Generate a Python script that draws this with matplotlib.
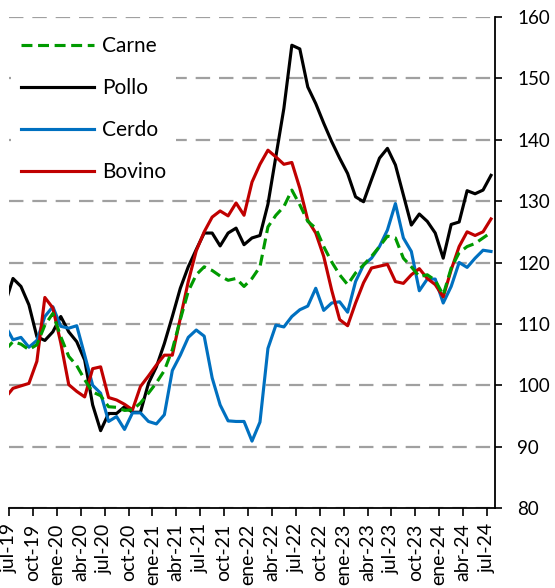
import numpy as np
import matplotlib.pyplot as plt

# monthly index, jun-19 .. jul-24 (first point falls left of the axis, clipped like the original)
carne = [105.7, 107.1, 106.7, 105.8, 106.6, 109.8, 111.7, 107.9, 104.7, 103.2, 100.9,
         98.9, 98.3, 96.5, 96.4, 95.9, 96.0, 97.1, 98.7, 100.4, 102.4, 105.8,
         110.7, 115.3, 118.0, 119.3, 118.7, 117.8, 117.1, 117.4, 116.1, 117.4,
         119.3, 125.8, 127.7, 129.1, 131.8, 129.4, 126.7, 125.6, 122.6, 120.1,
         118.0, 116.4, 118.3, 119.6, 121.0, 122.6, 124.3, 124.0, 120.7, 119.3,
         117.7, 118.0, 117.1, 114.7, 119.1, 121.6, 122.6, 123.1, 124.0, 124.9]
pollo = [113.2, 117.4, 116.1, 113.1, 107.9, 107.3, 108.7, 111.2, 108.7, 107.1, 104.1,
         96.8, 92.6, 95.4, 95.4, 96.5, 95.6, 95.6, 100.3, 103.0, 106.8, 111.2,
         115.8, 119.3, 122.1, 124.8, 124.8, 122.7, 124.8, 125.6, 122.9, 124.0,
         124.4, 129.5, 137.3, 145.1, 155.4, 154.8, 148.6, 145.9, 142.7, 139.7,
         137.0, 134.5, 130.7, 129.9, 133.5, 137.0, 138.6, 135.9, 131.0, 126.1,
         127.9, 126.7, 124.8, 120.7, 126.2, 126.6, 131.7, 131.2, 131.8, 134.2]
cerdo = [109.8, 107.4, 107.8, 106.2, 107.3, 111.2, 112.8, 109.6, 109.3, 109.7, 104.9,
         100.0, 98.7, 94.1, 94.9, 92.8, 95.5, 95.5, 94.1, 93.7, 95.2, 102.4,
         104.9, 107.8, 109.0, 108.0, 101.2, 96.8, 94.2, 94.1, 94.1, 90.9,
         94.0, 106.0, 109.8, 109.5, 111.2, 112.3, 112.9, 115.8, 112.2, 113.4,
         113.6, 111.9, 116.9, 119.6, 120.7, 122.6, 125.3, 129.6, 124.0, 121.8,
         115.4, 117.3, 117.3, 113.4, 116.1, 120.0, 119.2, 120.7, 122.0, 121.8]
bovino = [97.9, 99.5, 99.9, 100.3, 103.9, 114.3, 112.6, 106.9, 100.1, 99.0, 98.1,
          102.7, 103.0, 98.0, 97.6, 96.9, 96.0, 99.8, 101.5, 103.3, 104.9, 104.9,
          110.9, 116.9, 121.9, 125.0, 127.4, 128.4, 127.6, 129.7, 127.7, 133.1,
          136.0, 138.3, 137.2, 136.0, 136.3, 132.1, 126.9, 124.8, 121.0, 115.5,
          110.7, 109.7, 113.4, 116.7, 119.1, 119.4, 119.7, 116.9, 116.6, 118.0,
          119.0, 117.4, 116.4, 114.4, 118.8, 122.6, 125.0, 124.4, 125.0, 127.1]

tick_labels = ['jul-19', 'oct-19', 'ene-20', 'abr-20', 'jul-20', 'oct-20', 'ene-21',
               'abr-21', 'jul-21', 'oct-21', 'ene-22', 'abr-22', 'jul-22', 'oct-22',
               'ene-23', 'abr-23', 'jul-23', 'oct-23', 'ene-24', 'abr-24', 'jul-24']

plt.rcParams['font.family'] = ['Lato', 'DejaVu Sans']

fig = plt.figure(figsize=(5.55, 5.88), dpi=100)
ax = fig.add_axes([9 / 555, 1 - 508 / 588, 486 / 555, 491 / 588])

# points sit mid-month, month 0 = jul-19
x = np.arange(len(pollo)) - 1 + 0.5

ax.plot(x, carne, color='#009a00', lw=2.25, dashes=(3.5, 1.8), label='Carne', zorder=5)
ax.plot(x, pollo, color='black', lw=2.25, label='Pollo', zorder=3)
ax.plot(x, cerdo, color='#0070c0', lw=2.25, label='Cerdo', zorder=3)
ax.plot(x, bovino, color='#c00000', lw=2.25, label='Bovino', zorder=4)

ax.set_xlim(0, 61)
ax.set_ylim(80, 160)
ax.set_xticks(np.arange(0, 61, 3))
ax.set_xticklabels(tick_labels, rotation=90, fontsize=14)
ax.set_yticks(np.arange(80, 161, 10))
ax.yaxis.tick_right()
ax.tick_params(axis='y', labelsize=13.5, direction='out', length=5, width=1.2, pad=11)
ax.tick_params(axis='x', direction='out', length=6, width=1.2, pad=5)

for s in ['top', 'left']:
    ax.spines[s].set_visible(False)
for s in ['bottom', 'right']:
    ax.spines[s].set_linewidth(1.3)

ax.yaxis.grid(True, color='#a0a0a0', lw=1.6, dashes=(6.5, 4))
ax.set_axisbelow(True)

leg = ax.legend(loc='upper left', bbox_to_anchor=(11 / 555, 1 - 26 / 588),
                bbox_transform=fig.transFigure, fontsize=15, handlelength=3.5,
                handletextpad=0.35, labelspacing=1.05, borderpad=0.5,
                borderaxespad=0, frameon=True, fancybox=False)
leg.get_frame().set_facecolor('white')
leg.get_frame().set_edgecolor('none')
leg.get_frame().set_alpha(1)

fig.savefig('out.png', dpi=100)
